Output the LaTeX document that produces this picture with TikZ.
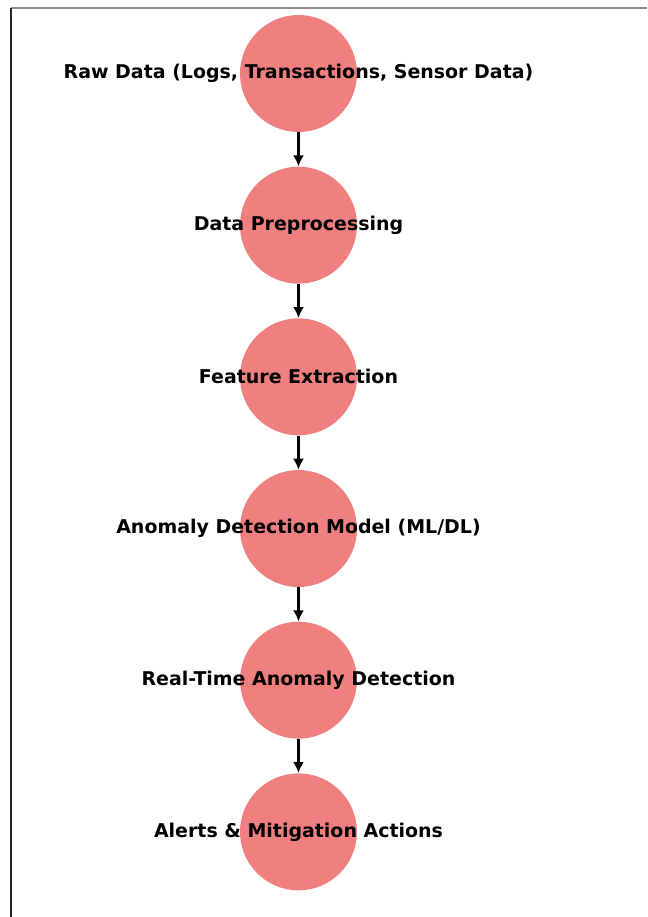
\documentclass[tikz,border=0pt]{standalone}
\usepackage{fontspec}
\setmainfont{DejaVu Sans}
\usepackage{tikz}
\usetikzlibrary{positioning,arrows.meta}
\definecolor{stagered}{RGB}{240,128,128}

\begin{document}
\begin{tikzpicture}[
    x=0.02cm, y=-0.02cm,
    node distance=0.68cm,
    stage/.style={circle, fill=stagered, minimum size=2.34cm, inner sep=0pt},
    caption/.style={font=\bfseries\fontsize{10.8}{13}\selectfont, text=black},
    arrow/.style={-{Latex[length=2.2mm, width=2.2mm]}, line width=1.2pt}
]
\useasboundingbox (0,0) rectangle (647,917);
% frame edges
\draw[line width=0.9pt, black!45] (11,8) -- (647,8);
\draw[line width=0.9pt, black!85] (11,8) -- (11,917);

\node[stage, label={[caption]center:Raw Data (Logs, Transactions, Sensor Data)}] (raw) at (298.5,73.5) {};
\node[stage, below=of raw, label={[caption]center:Data Preprocessing}] (prep) {};
\node[stage, below=of prep, label={[caption]center:Feature Extraction}] (feat) {};
\node[stage, below=of feat, label={[caption]center:Anomaly Detection Model (ML/DL)}] (model) {};
\node[stage, below=of model, label={[caption]center:Real-Time Anomaly Detection}] (detect) {};
\node[stage, below=of detect, label={[caption]center:Alerts \& Mitigation Actions}] (alert) {};

\draw[arrow] (raw) -- (prep);
\draw[arrow] (prep) -- (feat);
\draw[arrow] (feat) -- (model);
\draw[arrow] (model) -- (detect);
\draw[arrow] (detect) -- (alert);
\end{tikzpicture}
\end{document}
